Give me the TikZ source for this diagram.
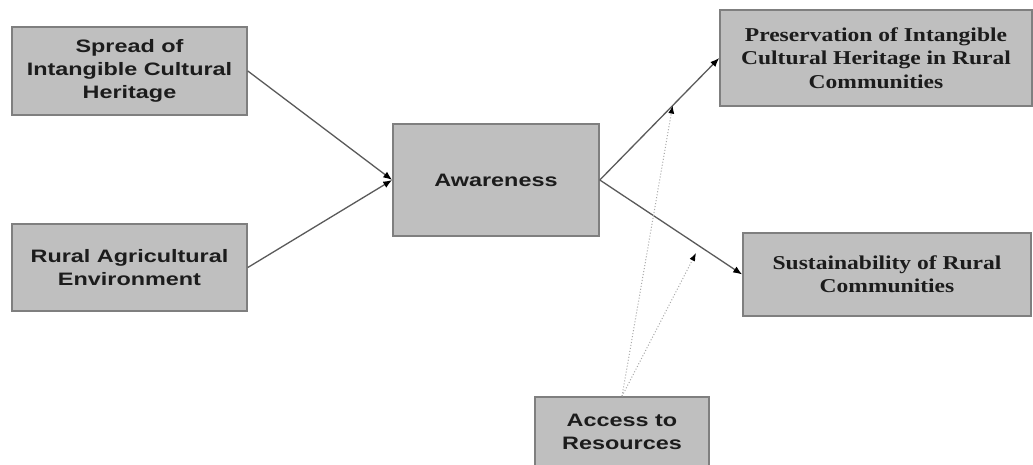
\documentclass[tikz,border=0pt]{standalone}
\usepackage{fontspec}
\usepackage{tikz}
\usetikzlibrary{arrows.meta}
\usetikzlibrary{calc}
\newfontfamily\sansbox[FakeStretch=1.3]{Liberation Sans}
\newfontfamily\serifbox[FakeStretch=1.2]{Liberation Serif}
\definecolor{boxfill}{HTML}{BFBFBF}
\definecolor{boxline}{HTML}{7F7F7F}
\definecolor{boxtext}{HTML}{1C1C1C}
\definecolor{arrowline}{HTML}{5A5A5A}
\definecolor{dotline}{HTML}{A8A8A8}

\begin{document}
\begin{tikzpicture}[x=1pt, y=1pt, factor/.style={rectangle, draw=boxline, line width=1.6pt, fill=boxfill, text=boxtext, align=center, inner sep=0pt, font=\sansbox\bfseries\fontsize{18}{22.8}\selectfont}, outcome/.style={factor, font=\serifbox\bfseries\fontsize{19.6}{23.3}\selectfont}, arrow/.style={draw=arrowline, line width=1.3pt, -{Latex[length=9pt, width=7pt, color=black]}}, dotarrow/.style={draw=dotline, line width=1pt, dotted, -{Latex[length=8pt, width=6pt, color=black]}}]
\useasboundingbox [fill=white] (0,0) rectangle (1033,464);
\node [factor, minimum width=235pt, minimum height=88pt] (spread) at (129.5,393) {Spread of\\Intangible Cultural\\Heritage};
\node [factor, minimum width=235pt, minimum height=87pt] (rural) at (129.5,196.5) {Rural Agricultural\\Environment};
\node [factor, minimum width=206pt, minimum height=112pt] (aware) at (496,284) {Awareness};
\node [outcome, minimum width=312pt, minimum height=96pt] (preserve) at (876,406) {Preservation of Intangible\\Cultural Heritage in Rural\\Communities};
\node [outcome, minimum width=288pt, minimum height=83pt] (sustain) at (887,189.5) {Sustainability of Rural\\Communities};
\node [factor, minimum width=174pt, minimum height=69pt] (access) at (622,32.5) {Access to\\Resources};
\coordinate (mod1) at ($(aware.east)!0.61!(preserve.west)$);
\coordinate (mod2) at (696,211);
\draw [arrow] (spread.east) -- (aware.west);
\draw [arrow] (rural.east) -- (aware.west);
\draw [arrow] (aware.east) -- (preserve.west);
\draw [arrow] (aware.east) -- (sustain.west);
\draw [dotarrow] (access.north) -- (mod1);
\draw [dotarrow] (access.north) -- (mod2);
\end{tikzpicture}
\end{document}
